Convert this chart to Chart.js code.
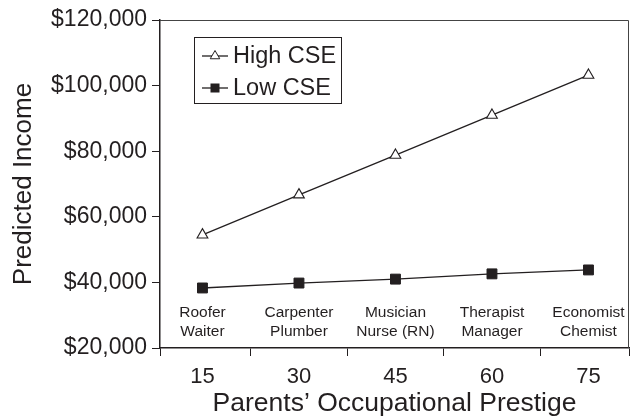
<!DOCTYPE html>
<html>
<head>
<meta charset="utf-8">
<script src="https://cdn.jsdelivr.net/npm/chart.js@4"></script>
<style>
  body { margin: 0; background: #fff; }
  #wrap { width: 637px; height: 420px; }
</style>
</head>
<body>
<div id="wrap"><canvas id="myChart"></canvas></div>
<script>
const prestige = [15, 30, 45, 60, 75];
const highCSE = [54500, 66700, 78800, 91000, 103200];
const lowCSE = [38300, 39800, 41000, 42600, 43800];
const occTop = ["Roofer", "Carpenter", "Musician", "Therapist", "Economist"];
const occBottom = ["Waiter", "Plumber", "Nurse (RN)", "Manager", "Chemist"];
// x range and the tick marks between the groups
const xMin = 8.4, xMax = 81.3;
const xTickMarks = [8.4, 22.5, 37.5, 52.5, 67.5, 81.3];

const INK = '#231f20';
const FONT = "'Liberation Sans', Arial, sans-serif";

function toPoints(vals) {
  return prestige.map((p, i) => ({ x: p, y: vals[i] }));
}

// top and right sides of the frame
const framePlugin = {
  id: 'frame',
  afterDraw(chart) {
    const { ctx, chartArea: a } = chart;
    ctx.save();
    ctx.strokeStyle = '#444';
    ctx.lineWidth = 1;
    ctx.beginPath();
    ctx.moveTo(a.left, a.top + 0.5);
    ctx.lineTo(a.right - 0.5, a.top + 0.5);
    ctx.lineTo(a.right - 0.5, a.bottom);
    ctx.stroke();
    ctx.restore();
  }
};

// occupation names above the x axis
const occPlugin = {
  id: 'occ',
  afterDraw(chart) {
    const { ctx, chartArea: a } = chart;
    const xs = chart.scales.x;
    ctx.save();
    ctx.fillStyle = INK;
    ctx.font = '15.5px ' + FONT;
    ctx.textAlign = 'center';
    ctx.textBaseline = 'middle';
    prestige.forEach((p, i) => {
      const x = xs.getPixelForValue(p);
      ctx.fillText(occTop[i], x, a.bottom - 35);
      ctx.fillText(occBottom[i], x, a.bottom - 16);
    });
    ctx.restore();
  }
};

// boxed legend with line + marker samples
const legendPlugin = {
  id: 'boxLegend',
  afterDraw(chart) {
    const { ctx } = chart;
    ctx.save();
    ctx.strokeStyle = INK;
    ctx.lineWidth = 1;
    ctx.strokeRect(194.5, 37.5, 147, 66);
    const rows = [56, 88];
    chart.data.datasets.forEach((ds, i) => {
      const y = rows[i];
      ctx.strokeStyle = INK;
      ctx.lineWidth = 1.3;
      ctx.beginPath();
      ctx.moveTo(202, y);
      ctx.lineTo(228, y);
      ctx.stroke();
      ctx.beginPath();
      if (ds.pointStyle === 'triangle') {
        const r = 5.5;
        ctx.moveTo(215, y - r);
        ctx.lineTo(215 + 0.866 * r, y + 0.5 * r);
        ctx.lineTo(215 - 0.866 * r, y + 0.5 * r);
        ctx.closePath();
        ctx.fillStyle = '#fff';
        ctx.fill();
        ctx.lineWidth = 1;
        ctx.stroke();
      } else {
        ctx.fillStyle = INK;
        ctx.fillRect(210.5, y - 4.5, 9, 9);
      }
      ctx.fillStyle = INK;
      ctx.font = '23.5px ' + FONT;
      ctx.textAlign = 'left';
      ctx.textBaseline = 'middle';
      ctx.fillText(ds.label, 233, y + 1);
    });
    ctx.restore();
  }
};

const data = {
  datasets: [
    {
      label: 'High CSE',
      data: toPoints(highCSE),
      borderColor: INK,
      borderWidth: 1.3,
      pointStyle: 'triangle',
      pointRadius: 6.2,
      pointBackgroundColor: '#fff',
      pointBorderColor: INK,
      pointBorderWidth: 1.1,
      tension: 0
    },
    {
      label: 'Low CSE',
      data: toPoints(lowCSE),
      borderColor: INK,
      borderWidth: 1.3,
      pointStyle: 'rect',
      pointRadius: 7,
      pointBackgroundColor: INK,
      pointBorderColor: INK,
      pointBorderWidth: 1,
      tension: 0
    }
  ]
};

const config = {
  type: 'line',
  data: data,
  options: {
    responsive: true,
    maintainAspectRatio: false,
    animation: false,
    layout: { padding: { top: 20, right: 4, left: 0, bottom: 0 } },
    plugins: {
      legend: { display: false },
      tooltip: { enabled: false }
    },
    scales: {
      x: {
        type: 'linear',
        min: xMin,
        max: xMax,
        afterBuildTicks(scale) {
          const vals = prestige.concat(xTickMarks).sort((a, b) => a - b);
          scale.ticks = vals.map(v => ({ value: v }));
        },
        afterFit(scale) { scale.height = 72; },
        border: { display: true, color: INK, width: 1.5 },
        grid: {
          drawOnChartArea: false,
          tickLength: 8,
          tickColor: ctx => prestige.includes(ctx.tick.value) ? 'rgba(0,0,0,0)' : INK,
          color: INK
        },
        ticks: {
          autoSkip: false,
          maxRotation: 0,
          padding: 8,
          color: INK,
          font: { family: FONT, size: 22 },
          callback: v => prestige.includes(v) ? String(v) : ''
        },
        title: {
          display: true,
          text: 'Parents\u2019 Occupational Prestige',
          color: INK,
          font: { family: FONT, size: 26.5, lineHeight: 1 },
          padding: { top: 0, bottom: 3 }
        }
      },
      y: {
        min: 20000,
        max: 120000,
        afterFit(scale) { scale.width = 160; },
        border: { display: true, color: INK, width: 1.5 },
        grid: { drawOnChartArea: false, tickLength: 8, tickColor: INK },
        ticks: {
          stepSize: 20000,
          padding: 5,
          color: INK,
          font: { family: FONT, size: 23 },
          callback: v => '$' + v.toLocaleString('en-US')
        },
        title: {
          display: true,
          text: 'Predicted Income',
          color: INK,
          font: { family: FONT, size: 26, lineHeight: 1 },
          padding: { top: 11, bottom: 0 }
        }
      }
    }
  },
  plugins: [framePlugin, occPlugin, legendPlugin]
};

const myChart = new Chart(document.getElementById('myChart'), config);
</script>
</body>
</html>
